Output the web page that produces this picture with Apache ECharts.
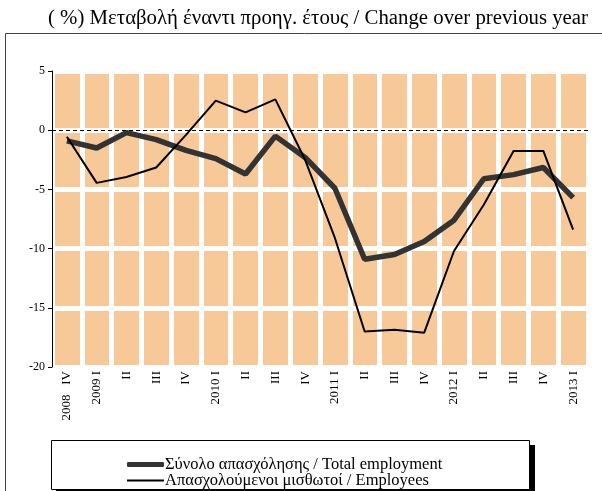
<!DOCTYPE html>
<html>
<head>
<meta charset="utf-8">
<script src="https://cdn.jsdelivr.net/npm/echarts@6/dist/echarts.min.js"></script>
<style>
html,body{margin:0;padding:0;background:#fff;}
#c{width:602px;height:491px;}
</style>
</head>
<body>
<div id="c"></div>
<script>
var categories = ['2008   IV','2009 I','II','III','IV','2010 I','II','III','IV','2011 I','II','III','IV','2012 I','II','III','IV','2013 I'];
var totalEmployment = [-0.9,-1.5,-0.2,-0.8,-1.7,-2.4,-3.7,-0.5,-2.3,-4.9,-10.9,-10.5,-9.4,-7.6,-4.1,-3.75,-3.15,-5.7];
var employees = [-0.55,-4.45,-3.95,-3.15,-0.4,2.5,1.5,2.6,-2.5,-9.1,-17.0,-16.85,-17.1,-10.2,-6.3,-1.75,-1.75,-8.4];
var yTicks = {min:-20, max:5, interval:5};
var seriesNames = ['Σύνολο απασχόλησης / Total employment','Απασχολούμενοι μισθωτοί / Employees'];
var titleText = '( %) Μεταβολή έναντι προηγ. έτους / Change over previous year';

var serif = '"Liberation Serif","DejaVu Serif",serif';
var legendText = {fontFamily:serif, fontSize:16.5, color:'#000', padding:[0,0,0,-4]};
var chart = echarts.init(document.getElementById('c'), null, {renderer:'canvas'});
chart.setOption({
  animation:false,
  backgroundColor:'#fff',
  title:{
    text:titleText, left:313, textAlign:'center', top:3,
    textStyle:{fontFamily:serif, fontSize:20.8, fontWeight:'normal', color:'#000'}
  },
  graphic:[
    {type:'rect', shape:{x:5.5,y:33.5,width:700,height:600}, style:{fill:null, stroke:'#444', lineWidth:1}, z:-10},
    {type:'rect', shape:{x:56,y:445,width:479,height:49}, style:{fill:'#000'}, z:0},
    {type:'rect', shape:{x:51.5,y:440.5,width:478,height:49}, style:{fill:'#fff', stroke:'#000', lineWidth:1}, z:1}
  ],
  legend:[
    {left:122, top:451, itemWidth:37, itemHeight:5, icon:'roundRect', data:[seriesNames[0]], z:5,
     textStyle:legendText, selectedMode:false},
    {left:122, top:467, itemWidth:37, itemHeight:2, icon:'rect', data:[seriesNames[1]], z:5,
     textStyle:legendText, selectedMode:false}
  ],
  grid:{left:52, right:14, top:71, bottom:124, show:true, backgroundColor:'#F8C998', borderWidth:0},
  xAxis:{
    type:'category', data:categories, boundaryGap:true,
    axisLine:{show:false}, axisTick:{show:false},
    splitLine:{show:true, interval:0, lineStyle:{color:'#fff', width:5}},
    axisLabel:{rotate:90, interval:0, margin:4, fontFamily:serif, fontSize:13, color:'#000'}
  },
  yAxis:{
    type:'value', min:yTicks.min, max:yTicks.max, interval:yTicks.interval,
    axisLine:{show:true, lineStyle:{color:'#000', width:1}},
    axisTick:{show:true, length:4, lineStyle:{color:'#000'}},
    splitLine:{show:true, lineStyle:{color:'#fff', width:5}},
    axisLabel:{margin:7, fontFamily:serif, fontSize:12, color:'#000'}
  },
  series:[
    {name:seriesNames[0], type:'line', data:totalEmployment, symbol:'none',
     lineStyle:{color:'#333', width:5.5}, itemStyle:{color:'#333'},
     markLine:{silent:true, symbol:['none','none'], label:{show:false},
       lineStyle:{color:'#000', type:[4,3], width:1}, data:[{yAxis:0}]}},
    {name:seriesNames[1], type:'line', data:employees, symbol:'none',
     lineStyle:{color:'#000', width:2}, itemStyle:{color:'#000'}}
  ]
});
</script>
</body>
</html>
